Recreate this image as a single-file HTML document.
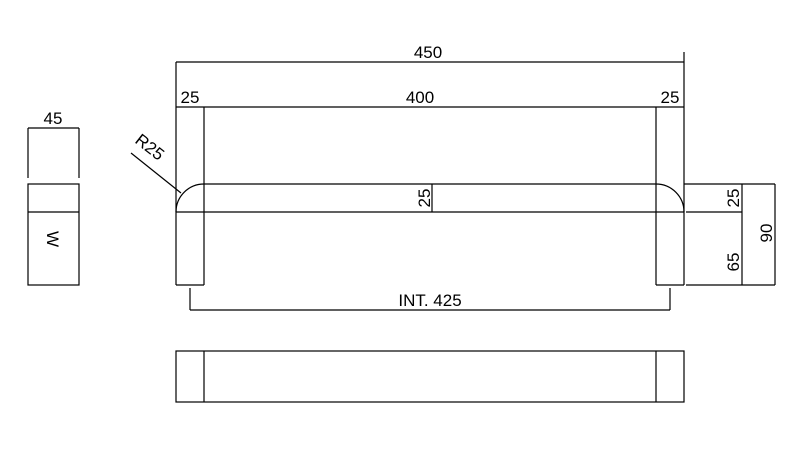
<!DOCTYPE html>
<html><head><meta charset="utf-8"><style>
html,body{margin:0;padding:0;background:#fff;}
svg{display:block;}
text{font-family:"Liberation Sans",Arial,sans-serif;font-size:17px;fill:#000;}
</style></head><body>
<svg width="805" height="464" viewBox="0 0 805 464" xmlns="http://www.w3.org/2000/svg">
<g stroke="#000" stroke-width="1.2" fill="none">
<line x1="176" y1="62" x2="684" y2="62"/>
<line x1="176" y1="62" x2="176" y2="212"/>
<line x1="684" y1="52" x2="684" y2="285"/>
<line x1="176" y1="107" x2="684" y2="107"/>
<line x1="204" y1="107" x2="204" y2="285"/>
<line x1="176" y1="212" x2="176" y2="285"/>
<line x1="176" y1="285" x2="204" y2="285"/>
<line x1="656" y1="107" x2="656" y2="285"/>
<line x1="656" y1="285" x2="684" y2="285"/>
<line x1="204" y1="184" x2="656" y2="184"/>
<line x1="176" y1="212" x2="684" y2="212"/>
<path d="M176 212 A28 28 0 0 1 204 184"/>
<path d="M656 184 A28 28 0 0 1 684 212"/>
<line x1="131" y1="153" x2="181" y2="193"/>
<line x1="432" y1="184" x2="432" y2="212"/>
<line x1="684" y1="184" x2="775" y2="184"/>
<line x1="686" y1="212" x2="742" y2="212"/>
<line x1="686" y1="285" x2="775" y2="285"/>
<line x1="742" y1="184" x2="742" y2="285"/>
<line x1="775" y1="184" x2="775" y2="285"/>
<line x1="190" y1="288" x2="190" y2="310"/>
<line x1="670" y1="288" x2="670" y2="310"/>
<line x1="190" y1="310" x2="670" y2="310"/>
<rect x="176" y="351" width="508" height="51"/>
<line x1="204" y1="351" x2="204" y2="402"/>
<line x1="656" y1="351" x2="656" y2="402"/>
<line x1="28" y1="128" x2="79" y2="128"/>
<line x1="28" y1="128" x2="28" y2="178"/>
<line x1="79" y1="128" x2="79" y2="178"/>
<rect x="28" y="184" width="51" height="101"/>
<line x1="28" y1="212" x2="79" y2="212"/>
</g>
<text x="428" y="58" text-anchor="middle">450</text>
<text x="420" y="103" text-anchor="middle">400</text>
<text x="190" y="103" text-anchor="middle">25</text>
<text x="670" y="103" text-anchor="middle">25</text>
<text x="53" y="124" text-anchor="middle">45</text>
<text transform="translate(134,142) rotate(38)">R25</text>
<text transform="translate(430,198) rotate(-90)" text-anchor="middle">25</text>
<text transform="translate(739,198) rotate(-90)" text-anchor="middle">25</text>
<text transform="translate(739,262) rotate(-90)" text-anchor="middle">65</text>
<text transform="translate(772,233) rotate(-90)" text-anchor="middle">90</text>
<text x="430" y="306" text-anchor="middle">INT. 425</text>
<text transform="translate(47,239) rotate(90)" text-anchor="middle">W</text>
</svg>
</body></html>
